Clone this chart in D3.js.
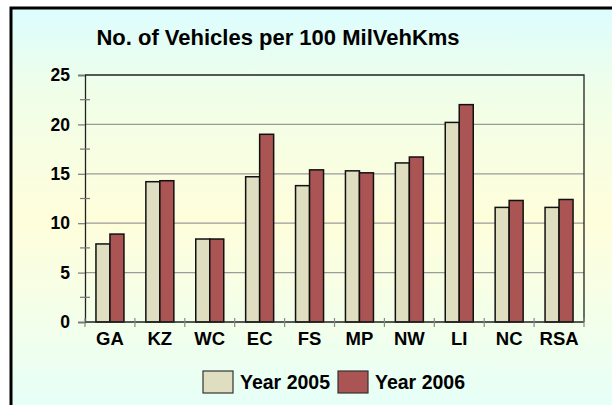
<!DOCTYPE html>
<html><head><meta charset="utf-8">
<script src="https://cdn.jsdelivr.net/npm/d3@7"></script>
<style>html,body{margin:0;padding:0;background:#fff;}svg{display:block;}</style>
</head><body>
<script>
const categories = ["GA","KZ","WC","EC","FS","MP","NW","LI","NC","RSA"];
const seriesNames = ["Year 2005","Year 2006"];
const values2005 = [7.9,14.2,8.4,14.7,13.8,15.3,16.1,20.2,11.6,11.6];
const values2006 = [8.9,14.3,8.4,19.0,15.4,15.1,16.7,22.0,12.3,12.4];
const yTicks = [0,5,10,15,20,25];
const colors = ["#e0dec0","#aa5454"];
const title = "No. of Vehicles per 100 MilVehKms";

(function(){
const W=612,H=405;
const svg=d3.select("body").append("svg").attr("width",W).attr("height",H);
const font="Arial, 'Liberation Sans', sans-serif";

const defs=svg.append("defs");
const g=defs.append("linearGradient").attr("id","bg").attr("x1",0).attr("y1",0).attr("x2",0).attr("y2",1);
[[0,"#dcfdff"],[0.2,"#f0fee8"],[0.5,"#fffedb"],[0.75,"#f2ffeb"],[1,"#e2fffc"]].forEach(s=>g.append("stop").attr("offset",s[0]).attr("stop-color",s[1]));

svg.append("rect").attr("x",11).attr("y",8).attr("width",W+20).attr("height",H+20)
  .attr("fill","url(#bg)").attr("stroke","#000").attr("stroke-width",3);

svg.append("text").attr("x",278).attr("y",45).attr("text-anchor","middle")
  .attr("font-family",font).attr("font-weight","bold").attr("font-size",22).text(title);

const pL=85,pR=584,pT=75,pB=322;
const x=d3.scaleBand().domain(categories).range([pL,pR]);
const y=d3.scaleLinear().domain([0,25]).range([pB,pT]);

svg.append("g").selectAll("line").data(yTicks.filter(t=>t>0&&t<25)).join("line")
  .attr("x1",pL).attr("x2",pR).attr("y1",d=>y(d)).attr("y2",d=>y(d))
  .attr("stroke","#9a9a9a").attr("stroke-width",1.3);

svg.append("path").attr("d",`M${pL},${pT}H${pR}V${pB}`).attr("fill","none").attr("stroke","#222").attr("stroke-width",1.3);

const yAxis=d3.axisLeft(y).tickValues(yTicks).tickSize(7).tickPadding(8);
const ya=svg.append("g").attr("transform",`translate(${pL},0)`).call(yAxis);
ya.select(".domain").attr("stroke","#222").attr("stroke-width",1.3);
ya.selectAll(".tick line").attr("stroke","#777").attr("stroke-width",1.2);
ya.selectAll("text").attr("font-family",font).attr("font-weight","bold").attr("font-size",17.5).attr("fill","#000");
const minor=d3.range(0,5).map(i=>i*5+2.5);
svg.append("g").selectAll("line").data(minor).join("line")
  .attr("x1",pL-5).attr("x2",pL+5).attr("y1",d=>y(d)).attr("y2",d=>y(d))
  .attr("stroke","#777").attr("stroke-width",1.2);

const sub=d3.scaleBand().domain([0,1]).range([0,28]);
const grp=svg.append("g").selectAll("g").data(categories).join("g")
  .attr("transform",d=>`translate(${x(d)+x.bandwidth()/2-14},0)`);
grp.selectAll("rect").data((d,i)=>[values2005[i],values2006[i]]).join("rect")
  .attr("x",(d,j)=>sub(j)).attr("width",sub.bandwidth())
  .attr("y",d=>y(d)).attr("height",d=>y(0)-y(d))
  .attr("fill",(d,j)=>colors[j]).attr("stroke","#111").attr("stroke-width",1.5);

svg.append("line").attr("x1",pL).attr("x2",pR).attr("y1",pB).attr("y2",pB).attr("stroke","#222").attr("stroke-width",1.3);
const bounds=categories.map(c=>x(c)).concat([pR]);
svg.append("g").selectAll("line").data(bounds).join("line")
  .attr("x1",d=>d).attr("x2",d=>d).attr("y1",pB-4).attr("y2",pB+5)
  .attr("stroke","#888").attr("stroke-width",1.2);
svg.append("g").selectAll("text").data(categories).join("text")
  .attr("x",d=>x(d)+x.bandwidth()/2).attr("y",345).attr("text-anchor","middle")
  .attr("font-family",font).attr("font-weight","bold").attr("font-size",18.5).text(d=>d);

const leg=[{x:203,tx:240},{x:338,tx:375}];
leg.forEach((l,i)=>{
  svg.append("rect").attr("x",l.x).attr("y",371).attr("width",30).attr("height",22)
    .attr("fill",colors[i]).attr("stroke","#333").attr("stroke-width",1.2);
  svg.append("text").attr("x",l.tx).attr("y",388.5).attr("font-family",font).attr("font-weight","bold").attr("font-size",19.5).text(seriesNames[i]);
});
})();
</script>
</body></html>
